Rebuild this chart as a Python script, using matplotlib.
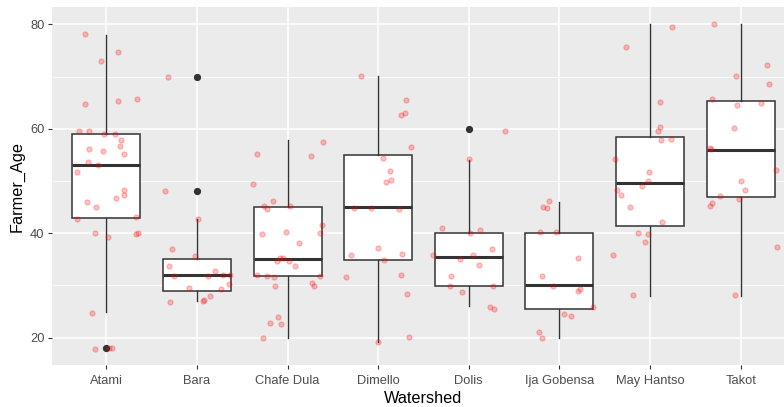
import matplotlib
matplotlib.use("Agg")
import matplotlib.pyplot as plt
from matplotlib.ticker import MultipleLocator

plt.rcParams['font.family'] = ['Liberation Sans', 'DejaVu Sans']

# categories
watersheds = ["Atami", "Bara", "Chafe Dula", "Dimello", "Dolis",
              "Ija Gobensa", "May Hantso", "Takot"]

# box statistics
box_med = [53.1, 32.0, 35.1, 45.0, 35.5, 30.0, 49.7, 56.0]
box_q1 = [42.9, 29.0, 31.9, 34.9, 29.9, 25.5, 41.4, 46.9]
box_q3 = [59.0, 35.0, 45.0, 55.0, 40.1, 40.0, 58.4, 65.4]
box_lo = [25.0, 27.1, 20.0, 19.1, 26.0, 20.0, 28.0, 28.0]
box_hi = [78.0, 42.7, 57.9, 70.1, 54.1, 46.0, 80.0, 80.0]
box_out = [[18.0], [70.0, 48.0], [], [], [60.0], [], [], []]

# jittered farmer ages (offset from category centre, age)
atami_dx = [-0.235, 0.129, -0.055, -0.235, 0.132, 0.338, -0.298, -0.188, -0.026,
            0.096, 0.166, 0.155, -0.188, -0.04, 0.195, -0.199, -0.088, -0.32,
            0.191, 0.191, 0.107, -0.21, -0.114, -0.32, 0.324, -0.125, 0.022,
            0.324, 0.346, -0.162, -0.125, 0.033, 0.059]
atami_age = [78.2, 74.8, 72.9, 64.8, 65.4, 65.8, 59.6, 59.6, 59.1,
             59.1, 57.9, 56.8, 56.1, 55.7, 55.2, 53.7, 53.0, 51.7,
             48.2, 47.3, 46.7, 46.0, 45.1, 42.7, 43.2, 40.0, 39.2,
             39.8, 40.0, 24.8, 17.8, 18.0, 18.0]

bara_dx = [-0.316, -0.353, 0.011, -0.28, -0.026, -0.305, -0.254, 0.195, 0.121,
           0.29, 0.364, -0.088, 0.265, 0.35, -0.294, 0.063, 0.077, 0.143]
bara_age = [70.0, 48.0, 42.7, 36.9, 35.7, 33.7, 31.9, 32.8, 31.9,
            32.1, 32.1, 29.6, 29.4, 30.2, 26.8, 27.1, 27.3, 28.0]

chafe_dx = [0.386, -0.342, 0.254, -0.379, -0.162, -0.258, -0.232, 0.022, 0.379,
            0.353, -0.283, -0.015, 0.121, -0.085, -0.055, -0.121, 0.011, 0.085,
            -0.342, -0.232, -0.147, 0.353, -0.136, 0.265, 0.291, -0.11, -0.199,
            -0.077, -0.272]
chafe_age = [57.4, 55.2, 54.8, 49.5, 46.2, 45.2, 44.6, 45.2, 41.6,
             40.0, 39.9, 40.2, 38.1, 35.2, 35.2, 34.6, 34.6, 33.7,
             32.1, 31.9, 31.7, 31.9, 29.9, 30.4, 29.9, 24.0, 22.8,
             22.6, 20.0]

dimello_dx = [-0.188, 0.302, 0.291, 0.25, 0.36, 0.048, 0.132, 0.143, 0.085,
              -0.269, -0.077, 0.228, -0.004, -0.305, 0.265, 0.059, -0.357, 0.25,
              0.316, 0.338, -0.004]
dimello_age = [70.2, 65.6, 63.0, 62.7, 56.6, 54.5, 52.0, 50.2, 49.8,
               44.9, 44.9, 44.6, 37.2, 35.9, 36.1, 34.9, 31.6, 32.1,
               28.4, 20.2, 19.1]

dolis_dx = [0.401, 0.0, -0.294, 0.121, 0.015, -0.39, 0.254, 0.048, -0.099,
            0.11, -0.195, -0.206, 0.269, -0.074, 0.232, 0.28]
dolis_age = [59.6, 54.2, 41.0, 40.7, 40.1, 35.8, 36.9, 35.9, 35.1,
             33.9, 31.9, 29.9, 29.9, 28.8, 25.9, 25.5]

ija_dx = [-0.114, -0.18, -0.14, -0.213, -0.04, 0.202, -0.188, -0.066, 0.202,
          0.224, 0.375, 0.055, 0.129, -0.221, -0.188]
ija_age = [46.2, 45.1, 44.9, 40.3, 40.3, 35.2, 31.9, 29.9, 29.0,
           29.4, 25.9, 24.6, 24.2, 21.1, 20.0]

may_dx = [0.239, -0.269, 0.107, 0.107, 0.085, 0.118, 0.228, -0.383, -0.015,
          -0.026, -0.088, -0.368, -0.316, -0.221, 0.132, -0.136, -0.026, -0.052,
          -0.405, -0.184]
may_age = [79.5, 75.7, 65.1, 60.3, 59.6, 57.9, 58.1, 54.2, 51.7,
           50.0, 49.0, 48.2, 47.3, 45.1, 42.2, 40.0, 39.9, 38.3,
           35.8, 28.1]

takot_dx = [-0.291, 0.294, -0.048, 0.316, -0.316, -0.037, 0.221, -0.074, -0.342,
            -0.331, 0.394, 0.0, 0.052, -0.232, -0.022, -0.316, -0.338, 0.405,
            -0.059]
takot_age = [80.1, 72.2, 70.2, 68.6, 65.8, 64.5, 64.9, 60.1, 56.4,
             56.1, 52.2, 50.0, 48.2, 47.1, 46.6, 45.8, 45.3, 37.4,
             28.1]

jitter_dx = [atami_dx, bara_dx, chafe_dx, dimello_dx, dolis_dx, ija_dx, may_dx, takot_dx]
jitter_age = [atami_age, bara_age, chafe_age, dimello_age, dolis_age, ija_age, may_age, takot_age]

W, H = 784, 407
fig = plt.figure(figsize=(W / 100, H / 100), dpi=100)
# panel is cut off at the right edge in the original, like here
ax = fig.add_axes([52 / W, 42 / H, 743 / W, 358 / H])
ax.set_facecolor('#EBEBEB')

pos = list(range(1, len(watersheds) + 1))
stats = []
for i in range(len(watersheds)):
    stats.append(dict(med=box_med[i], q1=box_q1[i], q3=box_q3[i],
                      whislo=box_lo[i], whishi=box_hi[i], fliers=box_out[i]))

ax.bxp(stats, positions=pos, widths=0.75, showcaps=False, patch_artist=True,
       boxprops=dict(facecolor='white', edgecolor='#333333', linewidth=1.1),
       whiskerprops=dict(color='#333333', linewidth=1.0),
       medianprops=dict(color='#333333', linewidth=2.2),
       flierprops=dict(marker='o', markerfacecolor='#333333', markeredgecolor='#333333',
                       markersize=4.2, linestyle='none'),
       zorder=2)

for i in range(len(watersheds)):
    xs = [pos[i] + d for d in jitter_dx[i]]
    ax.scatter(xs, jitter_age[i], s=14, facecolor=(1, 0, 0, 0.24),
               edgecolor=(1, 0, 0, 0.24), linewidths=0.8, zorder=3)

ax.set_xlim(0.4, 8.6)
ax.set_ylim(14.77, 83.33)
ax.set_xticks(pos)
ax.set_xticklabels(watersheds)
ax.yaxis.set_major_locator(MultipleLocator(20))
ax.yaxis.set_minor_locator(MultipleLocator(10))

ax.grid(which='major', color='white', linewidth=1.1)
ax.grid(which='minor', axis='y', color='white', linewidth=0.55)
ax.set_axisbelow(True)
for s in ax.spines.values():
    s.set_visible(False)

ax.tick_params(which='major', length=2.8, width=0.8, color='#333333',
               labelcolor='#4D4D4D', labelsize=9.3, pad=2.5)
ax.tick_params(axis='x', which='major', pad=4.5)
ax.tick_params(which='minor', length=0)

ax.set_xlabel('Watershed', fontsize=11.7, color='black', labelpad=2.5)
ax.set_ylabel('Farmer_Age', fontsize=11.7, color='black', labelpad=4)

fig.savefig('out.png', dpi=100)
